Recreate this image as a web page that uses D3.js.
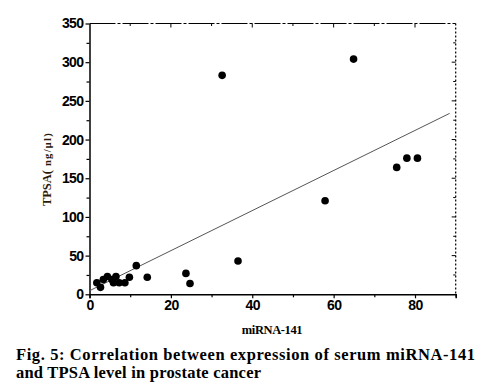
<!DOCTYPE html>
<html><head><meta charset="utf-8">
<script src="https://cdn.jsdelivr.net/npm/d3@7"></script>
<style>body{margin:0;background:#fff}svg{display:block}</style>
</head><body>
<script>
const miRNA = [1.8, 2.7, 3.4, 4.4, 5.5, 5.9, 6.5, 7.3, 8.7, 9.8, 11.5, 14.2, 23.7, 24.7, 32.6, 36.5, 57.9, 64.9, 75.5, 78.0, 80.6];
const tpsa  = [15, 9, 19, 23, 19, 15, 23, 15, 15, 22, 37, 22, 27, 14, 283, 43, 121, 304, 164, 176, 176];
const fitX = [0, 88.5];
const fitY = [4.6, 233.8];
const xTicks = [0, 20, 40, 60, 80];
const yTicks = [0, 50, 100, 150, 200, 250, 300, 350];
const xTitle = "miRNA-141";
const captionLines = ["Fig. 5: Correlation between expression of serum miRNA-141", "and TPSA level in prostate cancer"];

const W = 483, H = 386;
const m = {left: 89.5, top: 23.5, right: 455.7, bottom: 294.3};
const svg = d3.select("body").append("svg").attr("width", W).attr("height", H);
const x = d3.scaleLinear().domain([0, 90]).range([m.left, m.right]);
const y = d3.scaleLinear().domain([0, 350]).range([m.bottom, m.top]);

const xMinor = d3.range(10, 90, 20);
const yMinor = d3.range(25, 350, 50);

svg.append("line").attr("x1", m.left).attr("x2", m.right).attr("y1", m.top).attr("y2", m.top)
  .attr("stroke", "#000").attr("stroke-width", 1.2).attr("stroke-dasharray", "26,2,3,2");
svg.append("line").attr("x1", m.right).attr("x2", m.right).attr("y1", m.top).attr("y2", m.bottom)
  .attr("stroke", "#000").attr("stroke-width", 1.2).attr("stroke-dasharray", "2,2");
xTicks.forEach(v => { if (v > 0) svg.append("line").attr("x1", x(v)).attr("x2", x(v)).attr("y1", m.top).attr("y2", m.top + 4).attr("stroke", "#000"); });
xMinor.forEach(v => svg.append("line").attr("x1", x(v)).attr("x2", x(v)).attr("y1", m.top).attr("y2", m.top + 2.5).attr("stroke", "#000"));
yTicks.forEach(v => { if (v > 0 && v < 350) svg.append("line").attr("x1", m.right - 4).attr("x2", m.right).attr("y1", y(v)).attr("y2", y(v)).attr("stroke", "#000"); });
yMinor.forEach(v => svg.append("line").attr("x1", m.right - 2.5).attr("x2", m.right).attr("y1", y(v)).attr("y2", y(v)).attr("stroke", "#000"));

svg.append("g").attr("transform", `translate(0,${m.bottom})`)
  .call(d3.axisBottom(x).tickValues(xTicks).tickSize(4).tickSizeOuter(4).tickPadding(2));
svg.append("g").attr("transform", `translate(0,${m.bottom})`)
  .call(d3.axisBottom(x).tickValues(xMinor.concat([90])).tickSize(3).tickFormat("").tickSizeOuter(0))
  .select(".domain").remove();
svg.append("g").attr("transform", `translate(${m.left},0)`)
  .call(d3.axisLeft(y).tickValues(yTicks).tickSize(4).tickSizeOuter(0).tickPadding(2));
svg.append("g").attr("transform", `translate(${m.left},0)`)
  .call(d3.axisLeft(y).tickValues(yMinor).tickSize(3).tickFormat(""))
  .select(".domain").remove();
svg.selectAll(".domain").attr("stroke-width", 1.5);
svg.selectAll(".tick line").attr("stroke-width", 1.2);
svg.selectAll(".tick text").attr("font-family", "Liberation Sans, Arial, sans-serif")
  .attr("font-weight", "bold").attr("font-size", 14).attr("fill", "#000").attr("letter-spacing", "-0.6");

svg.append("line").attr("x1", x(fitX[0])).attr("y1", y(fitY[0])).attr("x2", x(fitX[1])).attr("y2", y(fitY[1]))
  .attr("stroke", "#555").attr("stroke-width", 1);

svg.append("g").selectAll("circle").data(miRNA.map((v, i) => [v, tpsa[i]])).join("circle")
  .attr("cx", d => x(d[0])).attr("cy", d => y(d[1])).attr("r", 3.8).attr("fill", "#000");

svg.append("text").attr("x", 272).attr("y", 334).attr("text-anchor", "middle")
  .attr("font-family", "Liberation Serif, Times New Roman, serif").attr("font-weight", "bold")
  .attr("font-size", 12.5).attr("letter-spacing", "-0.4").text(xTitle);
const yt = svg.append("text").attr("transform", "translate(51,169) rotate(-90)").attr("text-anchor", "middle")
  .attr("font-family", "Liberation Serif, Times New Roman, serif").attr("font-weight", "bold").attr("fill", "#2a1a0a");
yt.append("tspan").attr("font-size", 12.5).text("TPSA(");
yt.append("tspan").attr("font-size", 10.5).attr("letter-spacing", "1.3").text(" ng/μl)");

svg.append("text").attr("x", 16).attr("y", 360).attr("textLength", 459).attr("lengthAdjust", "spacing")
  .attr("font-family", "Liberation Serif, Times New Roman, serif").attr("font-weight", "bold")
  .attr("font-size", 16.5).text(captionLines[0]);
svg.append("text").attr("x", 16).attr("y", 377.5).attr("textLength", 245).attr("lengthAdjust", "spacing")
  .attr("font-family", "Liberation Serif, Times New Roman, serif").attr("font-weight", "bold")
  .attr("font-size", 16.5).text(captionLines[1]);
</script>
</body></html>
